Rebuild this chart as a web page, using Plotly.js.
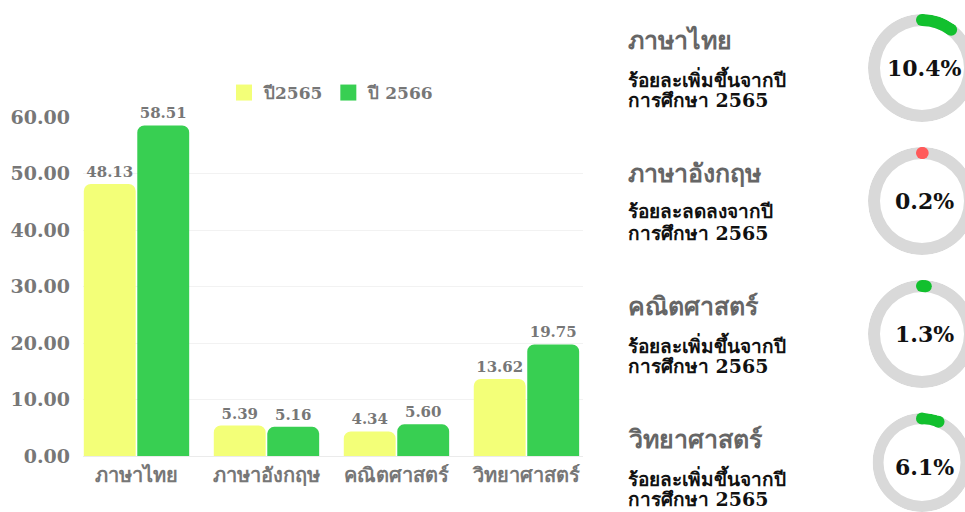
<!DOCTYPE html>
<html>
<head>
<meta charset="utf-8">
<script src="https://cdn.plot.ly/plotly-3.0.1.min.js"></script>
<style>
html,body{margin:0;padding:0;background:#fff;overflow:hidden;width:965px;height:512px;}
#chart{width:990px;height:512px;}
</style>
</head>
<body>
<div id="chart"></div>
<script>
// ---- data ----
const subjects = ["ภาษาไทย", "ภาษาอังกฤษ", "คณิตศาสตร์", "วิทยาศาสตร์"];
const seriesNames = ["ปี2565", "ปี 2566"];
const scores2565 = [48.13, 5.39, 4.34, 13.62];
const scores2566 = [58.51, 5.16, 5.60, 19.75];
const yTicks = [0, 10, 20, 30, 40, 50, 60];
const textUp = "ร้อยละเพิ่มขึ้นจากปี";
const textDown = "ร้อยละลดลงจากปี";
const textYear = "การศึกษา 2565";

// ---- layout helpers ----
const W = 990, H = 512;
const px = x => x / W;
const py = y => (H - y) / H;
const FONT = "'DejaVu Serif', 'Liberation Serif', serif";
const GRAY = "#777777";
const YELLOW = "#F3FF78";
const GREEN = "#38CF52";
const UP = "#12C02E";
const DOWN = "#FF5A5A";
const RING = "#D9D9D9";
const colors = [YELLOW, GREEN];
const series = [scores2565, scores2566];

const traces = [];
series.forEach((vals, k) => {
  traces.push({
    type: "bar", name: seriesNames[k], x: subjects, y: vals,
    marker: {color: colors[k], cornerradius: 7},
    texttemplate: "%{y:.2f}", textposition: "outside", cliponaxis: false,
    textfont: {family: FONT, size: 15, color: GRAY, weight: "bold"},
    showlegend: false, hoverinfo: "skip"
  });
});
series.forEach((vals, k) => {
  traces.push({
    type: "scatter", mode: "markers", name: seriesNames[k], x: [null], y: [null],
    marker: {color: colors[k], symbol: "square", size: 16, line: {width: 0}},
    showlegend: true, hoverinfo: "skip"
  });
});

const layout = {
  width: W, height: H,
  margin: {l: 0, r: 0, t: 0, b: 0},
  paper_bgcolor: "#fff", plot_bgcolor: "#fff",
  barmode: "group", bargap: 0.177, bargroupgap: 0.03,
  showlegend: true,
  legend: {
    orientation: "h", x: px(224), y: py(93), xanchor: "left", yanchor: "middle",
    font: {family: FONT, size: 17, color: GRAY, weight: "bold"},
    itemsizing: "trace", itemwidth: 30, traceorder: "normal", tracegroupgap: 0
  },
  xaxis: {
    domain: [px(83), px(583)], range: [-0.4115, 3.435],
    showgrid: false, zeroline: false, showline: false, ticks: "",
    ticklabelstandoff: 5,
    tickfont: {family: FONT, size: 20, color: GRAY, weight: "bold"},
    fixedrange: true
  },
  yaxis: {
    domain: [py(456), py(117)], range: [0, 60],
    tickvals: yTicks, tickformat: ".2f",
    showgrid: true, gridcolor: "#F2F2F2", gridwidth: 1,
    zeroline: true, zerolinecolor: "#EBEBEB", zerolinewidth: 1,
    showline: false, ticks: "", ticklabelstandoff: 12,
    tickfont: {family: FONT, size: 19, color: GRAY, weight: "bold"},
    fixedrange: true
  },
  annotations: [],
  font: {family: FONT}
};

// ---- gauges ----
const ringCenterX = 922, ringTop = 68, ringStep = 133, R = 54, thick = 12;
subjects.forEach((s, i) => {
  const diff = scores2566[i] - scores2565[i];
  const pct = Math.abs(diff);
  const up = diff >= 0;
  const col = up ? UP : DOWN;
  const cy = ringTop + ringStep * i;
  const sub = i === 0 ? "polar" : "polar" + (i + 1);
  layout[sub] = {
    domain: {x: [px(ringCenterX - R), px(ringCenterX + R)], y: [py(cy + R), py(cy - R)]},
    bgcolor: "rgba(0,0,0,0)",
    radialaxis: {range: [0, R], visible: false, showgrid: false},
    angularaxis: {visible: false, showgrid: false, rotation: 90, direction: "clockwise"},
    hole: 0
  };
  const span = pct / 100 * 360;
  traces.push({
    type: "barpolar", subplot: sub, r: [thick], base: [R - thick], theta: [180], width: [360],
    marker: {color: RING, line: {width: 0}}, showlegend: false, hoverinfo: "skip"
  });
  traces.push({
    type: "barpolar", subplot: sub, r: [thick], base: [R - thick], theta: [span / 2], width: [span],
    marker: {color: col, line: {width: 0}}, showlegend: false, hoverinfo: "skip"
  });
  traces.push({
    type: "scatterpolar", subplot: sub, mode: "markers", r: [R - thick / 2, R - thick / 2], theta: [0, span],
    marker: {color: col, size: thick, line: {width: 0}}, showlegend: false, hoverinfo: "skip"
  });
  layout.annotations.push({
    xref: "paper", yref: "paper", x: px(ringCenterX + 2), y: py(cy), xanchor: "center", yanchor: "middle",
    text: pct.toFixed(1) + "%", showarrow: false,
    font: {family: FONT, size: 22, color: "#111", weight: "bold"}
  });
  layout.annotations.push({
    xref: "paper", yref: "paper", x: px(626), y: py(cy - 28), xanchor: "left", yanchor: "middle",
    text: s, showarrow: false,
    font: {family: FONT, size: 25, color: "#666", weight: "bold"}
  });
  [up ? textUp : textDown, textYear].forEach((line, j) => {
    layout.annotations.push({
      xref: "paper", yref: "paper", x: px(626), y: py(cy + 10 + 22 * j), xanchor: "left", yanchor: "middle",
      text: line, showarrow: false, align: "left",
      font: {family: FONT, size: 19, color: "#111", weight: "bold"}
    });
  });
});

Plotly.newPlot("chart", traces, layout, {displayModeBar: false, staticPlot: true});
</script>
</body>
</html>
